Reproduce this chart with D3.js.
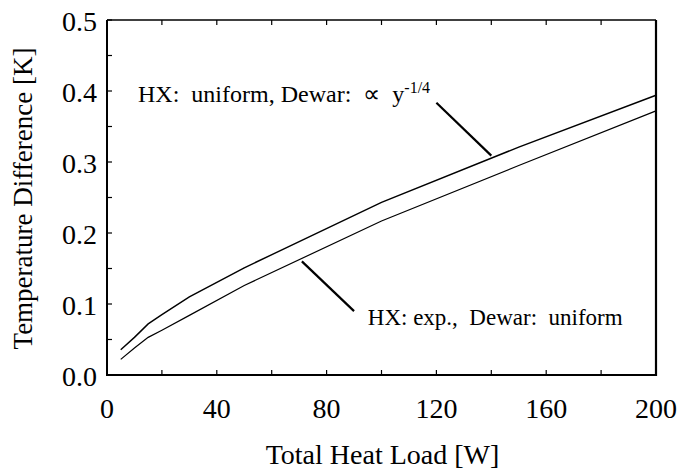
<!DOCTYPE html>
<html>
<head>
<meta charset="utf-8">
<script src="https://cdn.jsdelivr.net/npm/d3@7"></script>
<style>
  body { margin: 0; background: #fff; }
  text { font-family: "Liberation Serif", "Times New Roman", serif; fill: #000; white-space: pre; }
</style>
</head>
<body>
<div id="chart"></div>
<script>
// heat load [W] and temperature difference [K]
var loads = [5, 10, 15, 20, 30, 50, 100, 150, 200];
var dtUniform = [0.0355, 0.053, 0.072, 0.085, 0.110, 0.151, 0.243, 0.321, 0.394];   // HX: uniform, Dewar: ∝ y^-1/4
var dtExp = [0.022, 0.038, 0.053, 0.063, 0.084, 0.126, 0.217, 0.295, 0.372];       // HX: exp., Dewar: uniform

var xMajor = [0, 40, 80, 120, 160, 200];
var xMinor = [20, 60, 100, 140, 180];
var yMajor = [0, 0.1, 0.2, 0.3, 0.4, 0.5];
var yMinor = [0.05, 0.15, 0.25, 0.35, 0.45];

var width = 677,
    height = 471,
    plotL = 107, plotR = 656, plotT = 20, plotB = 375;

var svg = d3.select('#chart')
    .append('svg')
    .attr('width', width)
    .attr('height', height);

var x = d3.scaleLinear().domain([0, 200]).range([plotL, plotR]);
var y = d3.scaleLinear().domain([0, 0.5]).range([plotB, plotT]);

// ticks: inward on left, bottom and top
var tickLen = 5;
var xTicks = xMajor.concat(xMinor);
var yTicks = yMajor.concat(yMinor);

svg.append('g').selectAll('line').data(xTicks).enter().append('line')
    .attr('x1', x).attr('x2', x)
    .attr('y1', plotB).attr('y2', plotB - tickLen)
    .attr('stroke', '#000').attr('stroke-width', 1.2);
svg.append('g').selectAll('line').data(xTicks).enter().append('line')
    .attr('x1', x).attr('x2', x)
    .attr('y1', plotT).attr('y2', plotT + tickLen)
    .attr('stroke', '#000').attr('stroke-width', 1.2);
svg.append('g').selectAll('line').data(yTicks).enter().append('line')
    .attr('x1', plotL).attr('x2', plotL + tickLen)
    .attr('y1', y).attr('y2', y)
    .attr('stroke', '#000').attr('stroke-width', 1.2);

// frame
svg.append('line').attr('x1', plotL).attr('x2', plotR).attr('y1', plotT).attr('y2', plotT)
    .attr('stroke', '#000').attr('stroke-width', 1.3);
svg.append('line').attr('x1', plotL).attr('x2', plotR + 1).attr('y1', plotB).attr('y2', plotB)
    .attr('stroke', '#000').attr('stroke-width', 2);
svg.append('line').attr('x1', plotL).attr('x2', plotL).attr('y1', plotT).attr('y2', plotB + 1)
    .attr('stroke', '#000').attr('stroke-width', 2);
svg.append('line').attr('x1', plotR).attr('x2', plotR).attr('y1', plotT).attr('y2', plotB + 1)
    .attr('stroke', '#000').attr('stroke-width', 2.2);

// tick labels
svg.append('g').selectAll('text').data(xMajor).enter().append('text')
    .attr('x', x).attr('y', 418)
    .attr('text-anchor', 'middle')
    .attr('font-size', 28)
    .text(function(d) { return d; });

svg.append('g').selectAll('text').data(yMajor).enter().append('text')
    .attr('x', plotL - 10).attr('y', function(d) { return y(d) + 11; })
    .attr('text-anchor', 'end')
    .attr('font-size', 28)
    .text(function(d) { return d3.format('.1f')(d); });

// axis titles
svg.append('text')
    .attr('x', (plotL + plotR) / 2 + 1).attr('y', 464)
    .attr('text-anchor', 'middle')
    .attr('font-size', 28)
    .text('Total Heat Load [W]');

svg.append('text')
    .attr('transform', 'translate(32,' + ((plotT + plotB) / 2 + 1) + ') rotate(-90)')
    .attr('text-anchor', 'middle')
    .attr('font-size', 27)
    .text('Temperature Difference [K]');

// curves
var line = d3.line()
    .x(function(d) { return x(d[0]); })
    .y(function(d) { return y(d[1]); });

svg.append('path')
    .datum(d3.zip(loads, dtUniform))
    .attr('d', line)
    .attr('fill', 'none').attr('stroke', '#000').attr('stroke-width', 1.4);

svg.append('path')
    .datum(d3.zip(loads, dtExp))
    .attr('d', line)
    .attr('fill', 'none').attr('stroke', '#000').attr('stroke-width', 1.2);

// annotations
var up = svg.append('text')
    .attr('x', x(11.3)).attr('y', y(0.3845))
    .attr('font-size', 24);
up.append('tspan').text('HX:  uniform, Dewar:  \u221d  y');
up.append('tspan').attr('dy', -9).attr('font-size', 16).text('-1/4');

svg.append('line')
    .attr('x1', x(120)).attr('y1', y(0.3835))
    .attr('x2', x(140)).attr('y2', y(0.309))
    .attr('stroke', '#000').attr('stroke-width', 2.2);

svg.append('text')
    .attr('x', x(95)).attr('y', y(0.0704))
    .attr('font-size', 23)
    .text('HX: exp.,  Dewar:  uniform');

svg.append('line')
    .attr('x1', x(71)).attr('y1', y(0.160))
    .attr('x2', x(90)).attr('y2', y(0.090))
    .attr('stroke', '#000').attr('stroke-width', 2.2);
</script>
</body>
</html>
